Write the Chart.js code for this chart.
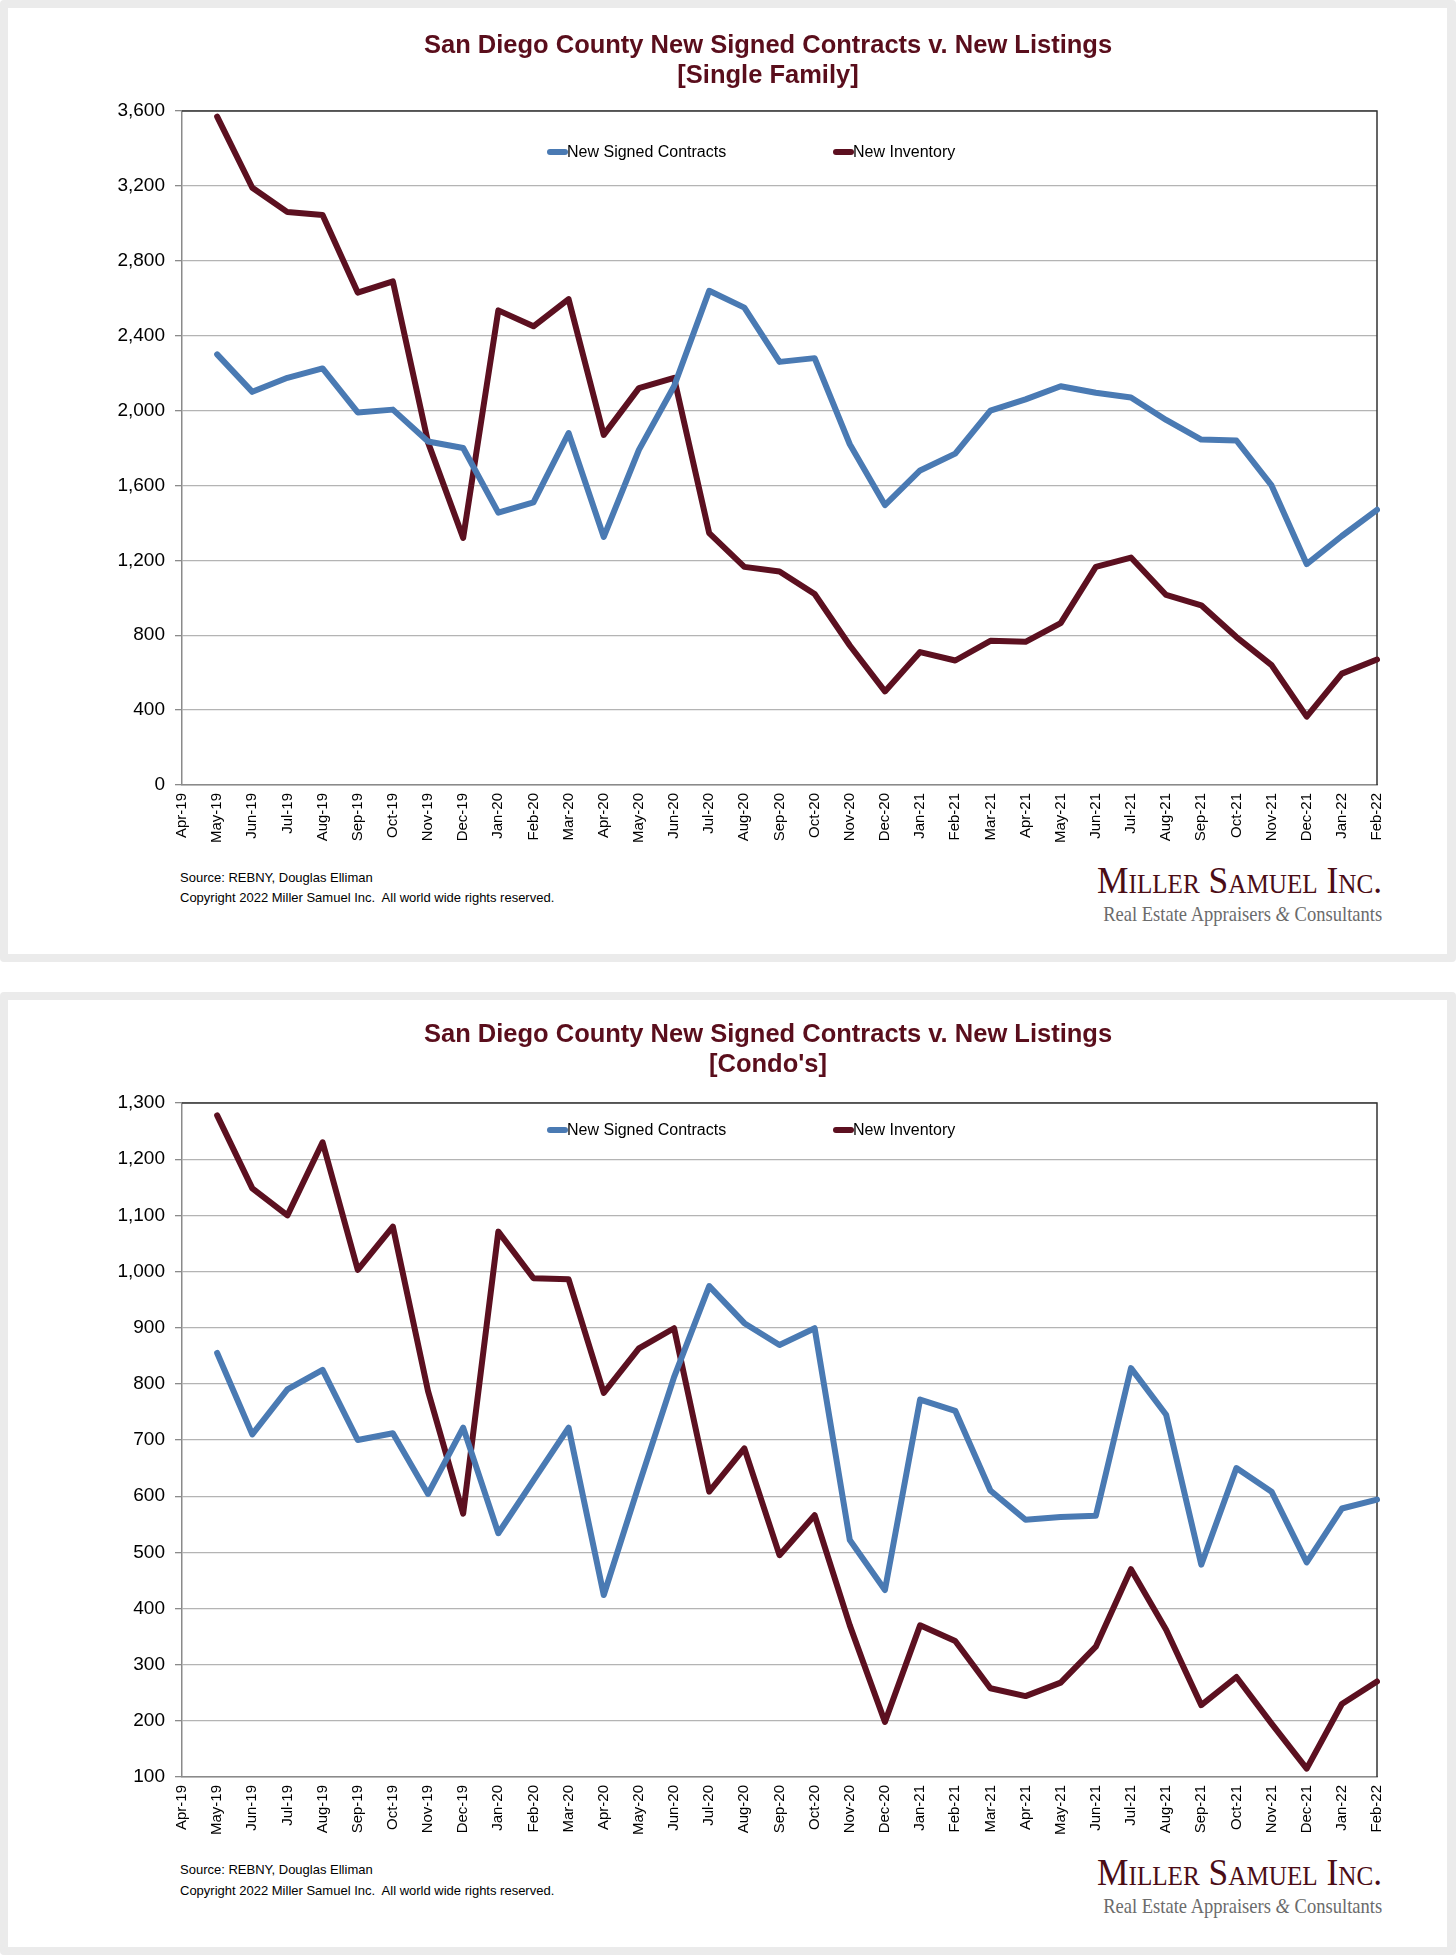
<!DOCTYPE html>
<html>
<head>
<meta charset="utf-8">
<script src="https://cdn.jsdelivr.net/npm/chart.js@4.4.1/dist/chart.umd.min.js"></script>
<style>
  html, body { margin: 0; padding: 0; background: #fff; }
  body { width: 1456px; height: 1955px; position: relative; overflow: hidden; }
  .card {
    position: absolute; left: 0; width: 1456px; box-sizing: border-box;
    border: 8px solid #ebebeb; border-right-width: 9px; border-radius: 4px; background: #fff;
  }
  /* wider than the card: the empty right part centres the title like the original */
  .plot { position: absolute; left: 0; top: 0; width: 1520px; height: 852px; }
  .src {
    position: absolute; left: 172px; font: 13px "Liberation Sans", Arial, sans-serif;
    color: #000; line-height: 13px; white-space: pre;
  }
  .logo1, .logo2 {
    position: absolute; right: 65px; white-space: nowrap; line-height: 1;
    font-family: "Liberation Serif", "DejaVu Serif", serif; transform-origin: right center;
  }
  .logo1 { top: 853px; font-size: 38px; font-variant: small-caps; color: #4b0d16; }
  .logo2 { top: 896px; font-size: 21px; color: #6b6b6b; }
</style>
</head>
<body>
<div class="card" style="top:0;height:962px">
  <div class="src" style="top:863px">Source: REBNY, Douglas Elliman</div>
  <div class="src" style="top:883px">Copyright 2022 Miller Samuel Inc.  All world wide rights reserved.</div>
  <div class="logo1">Miller Samuel Inc.</div>
  <div class="logo2">Real Estate Appraisers <i>&amp;</i> Consultants</div>
  <div class="plot"><canvas id="sfChart"></canvas></div>
</div>
<div class="card" style="top:992px;height:963px">
  <div class="src" style="top:863px">Source: REBNY, Douglas Elliman</div>
  <div class="src" style="top:884px">Copyright 2022 Miller Samuel Inc.  All world wide rights reserved.</div>
  <div class="logo1">Miller Samuel Inc.</div>
  <div class="logo2">Real Estate Appraisers <i>&amp;</i> Consultants</div>
  <div class="plot"><canvas id="condoChart"></canvas></div>
</div>
<script>
const months = [
  'Apr-19', 'May-19', 'Jun-19', 'Jul-19', 'Aug-19', 'Sep-19', 'Oct-19', 'Nov-19', 'Dec-19',
  'Jan-20', 'Feb-20', 'Mar-20', 'Apr-20', 'May-20', 'Jun-20', 'Jul-20', 'Aug-20', 'Sep-20',
  'Oct-20', 'Nov-20', 'Dec-20', 'Jan-21', 'Feb-21', 'Mar-21', 'Apr-21', 'May-21', 'Jun-21',
  'Jul-21', 'Aug-21', 'Sep-21', 'Oct-21', 'Nov-21', 'Dec-21', 'Jan-22', 'Feb-22',
];

// single family (no value for Apr-19)
const sfContracts = [null,
  2300, 2100, 2175, 2225, 1990, 2005, 1835, 1800, 1455, 1510,
  1880, 1325, 1790, 2130, 2640, 2550, 2260, 2280, 1820, 1495,
  1680, 1770, 2000, 2060, 2130, 2095, 2070, 1950, 1845, 1840,
  1600, 1180, 1330, 1470];
const sfInventory = [null,
  3570, 3190, 3060, 3045, 2630, 2690, 1830, 1320, 2535, 2450,
  2595, 1870, 2120, 2175, 1345, 1165, 1140, 1020, 745, 500,
  710, 665, 770, 765, 865, 1165, 1215, 1015, 960, 790,
  640, 365, 595, 670];

// condos
const condoContracts = [null,
  855, 710, 790, 825, 700, 712, 604, 722, 534, 628,
  722, 424, 620, 812, 974, 908, 869, 899, 522, 433,
  772, 752, 610, 558, 563, 565, 828, 745, 478, 650,
  608, 482, 578, 594];
const condoInventory = [null,
  1278, 1148, 1100, 1230, 1003, 1080, 787, 569, 1071, 988,
  986, 784, 863, 899, 608, 685, 495, 566, 370, 198,
  370, 342, 258, 244, 268, 332, 470, 362, 228, 278,
  195, 115, 230, 270];

const seriesNames = ['New Signed Contracts', 'New Inventory'];
const sfAxis = [0, 3600, 400];
const condoAxis = [100, 1300, 100];

const BLUE = '#4a7ab3';
const MAROON = '#5c1020';

Chart.defaults.font.family = '"Liberation Sans", Arial, sans-serif';
Chart.defaults.color = '#000';

// legend drawn inside the plot, like the original
const insideLegend = {
  id: 'insideLegend',
  afterDatasetsDraw(chart, args, opts) {
    const { ctx, chartArea } = chart;
    ctx.save();
    ctx.font = '16px "Liberation Sans", Arial, sans-serif';
    ctx.textBaseline = 'middle';
    chart.data.datasets.forEach((ds, i) => {
      const x = chartArea.left + opts.x + i * opts.gap;
      const y = chartArea.top + opts.y;
      ctx.strokeStyle = ds.borderColor;
      ctx.lineWidth = 6;
      ctx.lineCap = 'round';
      ctx.beginPath();
      ctx.moveTo(x + 3, y);
      ctx.lineTo(x + 18, y);
      ctx.stroke();
      ctx.fillStyle = '#000';
      ctx.fillText(ds.label, x + 20, y + 1);
    });
    ctx.restore();
  },
};

// dark top + right edges of the plot box
const plotFrame = {
  id: 'plotFrame',
  beforeDatasetsDraw(chart) {
    const { ctx, chartArea: a } = chart;
    ctx.save();
    ctx.strokeStyle = '#333';
    ctx.lineWidth = 1.5;
    ctx.beginPath();
    ctx.moveTo(a.left, a.top);
    ctx.lineTo(a.right, a.top);
    ctx.lineTo(a.right, a.bottom);
    ctx.stroke();
    ctx.restore();
  },
};

function makeChart(id, title, contracts, inventory, axis, legendY, titleTop) {
  return new Chart(document.getElementById(id), {
    type: 'line',
    data: {
      labels: months,
      datasets: [
        { label: seriesNames[0], data: contracts, borderColor: BLUE },
        { label: seriesNames[1], data: inventory, borderColor: MAROON },
      ],
    },
    options: {
      responsive: true,
      maintainAspectRatio: false,
      animation: false,
      devicePixelRatio: 1,
      layout: { padding: { left: 0, right: 0, top: 0, bottom: 0 } },
      elements: {
        line: { borderWidth: 6, tension: 0, borderJoinStyle: 'round', borderCapStyle: 'round' },
        point: { radius: 0, hoverRadius: 0 },
      },
      scales: {
        x: {
          offset: false,
          grid: { display: true, drawOnChartArea: false, drawTicks: false },
          border: { color: '#8a8a8a', width: 1.5 },
          ticks: { autoSkip: false, minRotation: 90, maxRotation: 90, padding: 8, font: { size: 15 } },
          afterFit: (s) => { s.height = 75; },
        },
        y: {
          min: axis[0],
          max: axis[1],
          grid: { color: '#b4b4b4', lineWidth: 1.3, tickLength: 7, tickColor: '#8a8a8a' },
          border: { color: '#8a8a8a', width: 1.5 },
          ticks: {
            stepSize: axis[2],
            padding: 10,
            font: { size: 19 },
            callback: (v) => v.toLocaleString('en-US'),
          },
          afterFit: (s) => { s.width = 174; },
        },
        // empty spacer on the right so the full-width title is centred as in the original
        spacer: {
          position: 'right',
          display: true,
          grid: { display: false },
          border: { display: false },
          ticks: { display: false },
          afterFit: (s) => { s.width = 151; },
        },
      },
      plugins: {
        legend: { display: false },
        tooltip: { enabled: false },
        title: {
          display: true,
          text: ['San Diego County New Signed Contracts v. New Listings', title],
          color: '#5a0e1c',
          font: { size: 25.5, weight: 'bold', lineHeight: 1.18 },
          padding: { top: titleTop, bottom: 103 - titleTop - 60.18 },
        },
        insideLegend: { x: 365, y: legendY, gap: 286 },
      },
    },
    plugins: [insideLegend, plotFrame],
  });
}

makeChart('sfChart', '[Single Family]', sfContracts, sfInventory, sfAxis, 41, 23);
makeChart('condoChart', "[Condo's]", condoContracts, condoInventory, condoAxis, 27, 20);

// squeeze logo lines to the width they take in the original
function fit() {
  document.querySelectorAll('.logo1').forEach((el) => {
    el.style.transform = 'scaleX(' + (285 / el.getBoundingClientRect().width) + ')';
  });
  document.querySelectorAll('.logo2').forEach((el) => {
    el.style.transform = 'scaleX(' + (279 / el.getBoundingClientRect().width) + ')';
  });
}
fit();
</script>
</body>
</html>
